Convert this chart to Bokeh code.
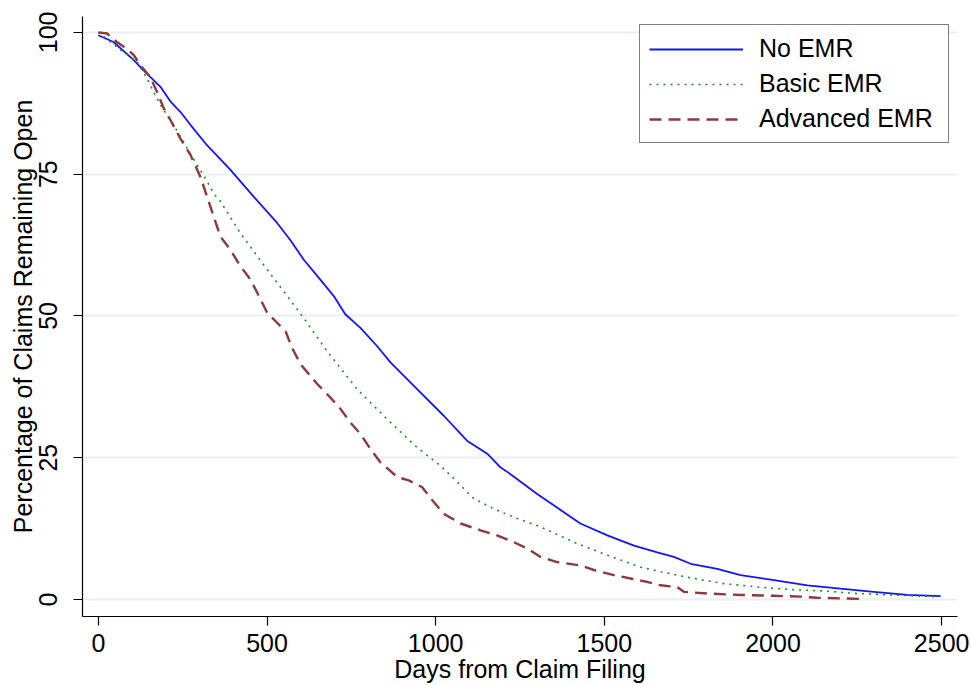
from bokeh.plotting import figure
from bokeh.models import Range1d, FixedTicker
from bokeh.embed import file_html
from bokeh.resources import INLINE

# ---- data ----
no_emr_days = [0, 45, 105, 134, 184, 214, 243, 273, 322, 391, 461, 530, 569, 609, 658, 698,
               732, 777, 826, 866, 945, 1024, 1093, 1153, 1192, 1222, 1301, 1380, 1429, 1509,
               1588, 1657, 1706, 1756, 1835, 1904, 2003, 2102, 2200, 2299, 2398, 2497]
no_emr_pct = [99.5, 98.3, 95.1, 93.3, 90.4, 87.8, 86.0, 83.7, 80.1, 75.8, 71.0, 66.4, 63.4, 59.9,
              56.4, 53.5, 50.3, 47.9, 44.7, 41.8, 37.1, 32.4, 28.0, 25.7, 23.3, 22.1, 18.6, 15.4,
              13.4, 11.3, 9.5, 8.3, 7.5, 6.3, 5.4, 4.3, 3.4, 2.5, 1.9, 1.35, 0.8, 0.6]

basic_days = [0, 75, 115, 144, 164, 184, 223, 263, 293, 317, 342, 362, 421, 500, 560, 609, 678,
              767, 856, 945, 1014, 1054, 1113, 1172, 1232, 1311, 1410, 1509, 1607, 1667, 1756,
              1854, 1953, 2052, 2151, 2250, 2349, 2477]
basic_pct = [100, 96.5, 94.8, 91.9, 89.5, 87.2, 83.7, 79.6, 76.6, 74.3, 71.6, 70.2, 64.6, 58.2,
             53.5, 49.6, 43.8, 37.1, 31.8, 26.8, 23.6, 21.3, 17.8, 16.0, 14.5, 12.8, 10.1, 7.8,
             5.7, 4.9, 3.8, 2.8, 2.2, 1.75, 1.5, 1.05, 0.8, 0.5]

adv_days = [0, 26, 55, 85, 105, 125, 154, 174, 194, 214, 243, 273, 302, 322, 342, 362, 391, 421,
            451, 471, 500, 530, 555, 574, 599, 649, 688, 718, 747, 777, 807, 836, 886, 920, 960,
            990, 1024, 1074, 1133, 1182, 1232, 1271, 1311, 1360, 1429, 1469, 1528, 1578, 1627,
            1667, 1716, 1736, 1805, 1904, 2003, 2082, 2131, 2200, 2260]
adv_pct = [100, 99.8, 98.3, 97.1, 96.0, 94.2, 92.1, 89.5, 86.6, 84.5, 81.3, 78.4, 74.6, 71.1,
           67.5, 64.0, 61.7, 58.8, 56.4, 54.1, 50.6, 48.8, 47.3, 44.4, 41.5, 38.0, 35.6, 33.6,
           31.2, 29.2, 26.5, 24.2, 21.6, 21.0, 19.8, 17.5, 15.1, 13.4, 12.2, 11.3, 10.1, 9.0,
           7.5, 6.6, 6.0, 5.2, 4.3, 3.7, 3.1, 2.5, 2.2, 1.35, 1.05, 0.8, 0.65, 0.5, 0.3, 0.2, 0.1]

x_ticks = [0, 500, 1000, 1500, 2000, 2500]
y_ticks = [0, 25, 50, 75, 100]
series_labels = ["No EMR", "Basic EMR", "Advanced EMR"]

FONT = "Liberation Sans"
FS = "25px"

p = figure(width=971, height=685, output_backend="svg", toolbar_location=None,
           x_range=Range1d(-47, 2547), y_range=Range1d(-3, 102.8),
           min_border_left=82, min_border_right=14, min_border_top=16, min_border_bottom=67,
           background_fill_color="white", border_fill_color="white")
p.outline_line_color = None

p.line(no_emr_days, no_emr_pct, line_color="#1414ff", line_width=1.8,
       legend_label=series_labels[0])
p.line(basic_days, basic_pct, line_color="#1e8c1e", line_width=1.6, line_dash="2 5",
       legend_label=series_labels[1])
p.line(adv_days, adv_pct, line_color="#8c3a3c", line_width=2.4, line_dash="12 7",
       legend_label=series_labels[2])

# axes
p.xaxis.ticker = FixedTicker(ticks=x_ticks)
p.yaxis.ticker = FixedTicker(ticks=y_ticks)
for ax in (p.xaxis, p.yaxis):
    ax.axis_line_color = "black"
    ax.axis_line_width = 1.2
    ax.major_tick_line_color = "black"
    ax.major_tick_line_width = 1.2
    ax.major_tick_out = 9
    ax.major_tick_in = 0
    ax.minor_tick_line_color = None
    ax.major_label_text_font = FONT
    ax.major_label_text_font_size = FS
    ax.major_label_text_color = "black"
    ax.axis_label_text_font = FONT
    ax.axis_label_text_font_size = FS
    ax.axis_label_text_font_style = "normal"
    ax.axis_label_text_color = "black"

p.xaxis.axis_label = "Days from Claim Filing"
p.yaxis.axis_label = "Percentage of Claims Remaining Open"
p.yaxis.major_label_orientation = "vertical"
p.xaxis.major_label_standoff = 8
p.xaxis.axis_label_standoff = 0
p.yaxis.major_label_standoff = 16
p.yaxis.axis_label_standoff = 0

p.xgrid.grid_line_color = None
p.ygrid.grid_line_color = "#e8f0f2"
p.ygrid.grid_line_width = 2

leg = p.legend[0]
leg.location = "top_right"
leg.margin = 8
leg.border_line_color = "black"
leg.border_line_width = 1
leg.background_fill_color = "white"
leg.background_fill_alpha = 1
leg.label_text_font = FONT
leg.label_text_font_size = FS
leg.label_text_color = "black"
leg.glyph_width = 94
leg.glyph_height = 20
leg.label_standoff = 16
leg.label_width = 180
leg.padding = 9
leg.spacing = 6

open("out.html", "w").write(file_html(p, INLINE))
